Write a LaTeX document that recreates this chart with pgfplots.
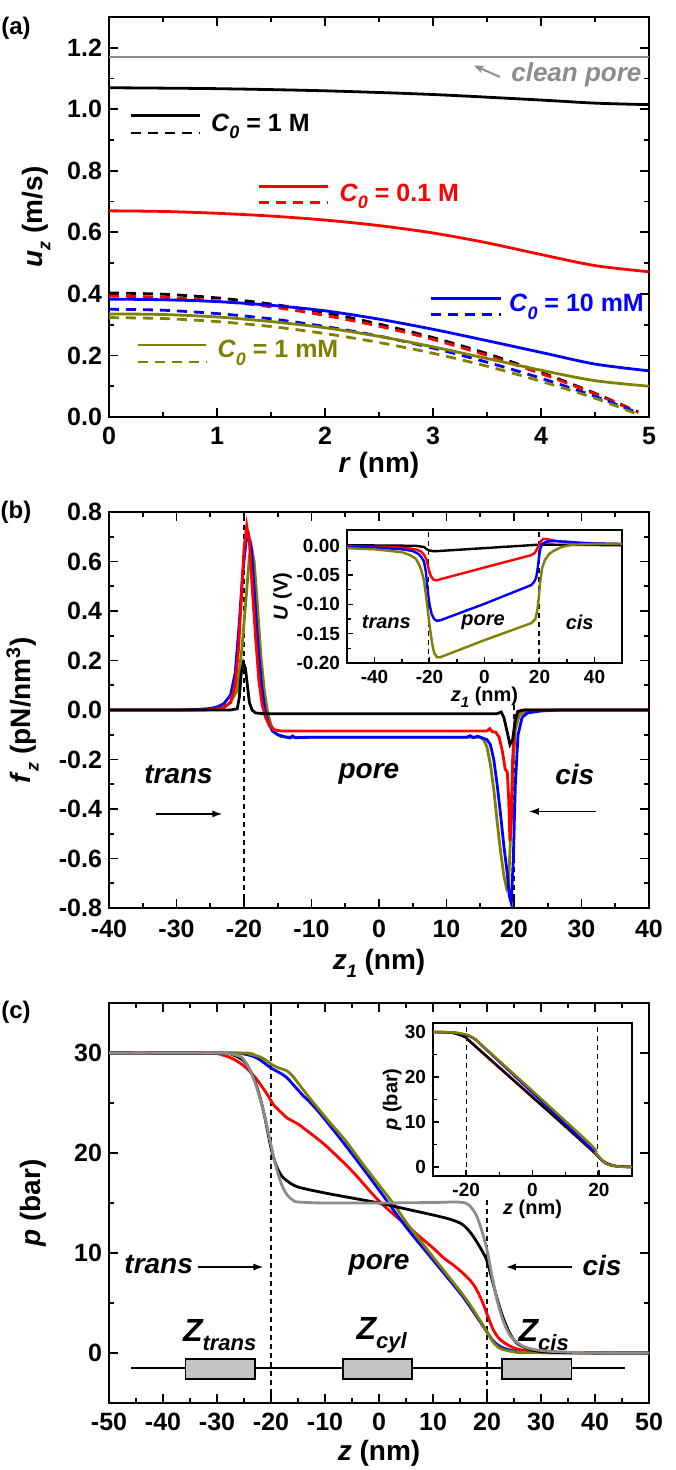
\documentclass[border=0pt]{standalone}
\usepackage{fontspec}
\setmainfont{Liberation Sans}
\usepackage{pgfplots}
\pgfplotsset{compat=1.18}
\usetikzlibrary{arrows.meta}
\definecolor{olv}{RGB}{128,128,0}
\definecolor{cgray}{RGB}{140,140,140}
\definecolor{boxgray}{RGB}{195,195,195}
\newcommand{\sub}[1]{\raisebox{-0.55ex}{\fontsize{9}{10}\selectfont #1}}
\newcommand{\isub}[1]{\raisebox{-0.55ex}{\fontsize{7.5}{8}\selectfont #1}}

\tikzset{
  dsh/.style={dash pattern=on 5pt off 3.5pt},
  vline/.style={black, line width=0.6pt, dash pattern=on 2.5pt off 2pt},
}
\pgfplotsset{
  mainax/.style={
    scale only axis, width=270pt, anchor=south west,
    tick align=inside,
    axis line style={line width=1.1pt},
    every tick/.style={black,line width=0.9pt},
    major tick length=4.5pt, minor tick length=2.5pt,
    /pgf/number format/assume math mode=true,
    tick label style={font=\fontsize{12.5}{14}\selectfont\bfseries},
    xticklabel style={yshift=-1.5pt},
    label style={font=\fontsize{14}{16}\selectfont\bfseries},
    every axis plot/.append style={line width=1.4pt},
  },
  inax/.style={
    scale only axis, anchor=south west,
    axis background/.style={fill=white},
    tick align=inside, xtick pos=bottom, ytick pos=left,
    axis line style={line width=0.9pt},
    every tick/.style={black,line width=0.7pt},
    major tick length=3pt, minor tick length=1.8pt,
    /pgf/number format/assume math mode=true,
    tick label style={font=\fontsize{9.5}{10}\selectfont\bfseries},
    label style={font=\fontsize{10}{11}\selectfont\bfseries},
    every axis plot/.append style={line width=1.2pt},
  },
}

\begin{document}
\begin{tikzpicture}
\path[use as bounding box] (0,0) rectangle (337.5pt,735pt);

% ---------------- (a)
\node[font=\fontsize{12}{13}\selectfont\bfseries] at (8pt,721pt) {(a)};
\begin{axis}[mainax, at={(54.5pt,526.5pt)}, height=200pt,
  xmin=0, xmax=5, ymin=0, ymax=1.3,
  xtick={0,1,2,3,4,5}, ytick={0,0.2,0.4,0.6,0.8,1.0,1.2},
  minor x tick num=1, minor y tick num=1,
  yticklabel style={/pgf/number format/fixed,/pgf/number format/precision=1,/pgf/number format/fixed zerofill},
  xlabel={\textit{r} (nm)}, ylabel={\textit{u}\sub{\textit{z}} (m/s)},
  xlabel style={at={(axis description cs:0.5,0)}, anchor=center, yshift=-24pt},
  ylabel style={at={(axis description cs:-0.135,0.5)}, anchor=center},
]
\addplot[cgray, no marks] coordinates {(0,1.17)(5,1.17)};
% dashed
\addplot[black, dsh, no marks, smooth] coordinates {(0,0.403)(0.5,0.399)(1,0.387)(1.5,0.367)(2,0.339)(2.5,0.302)(3,0.258)(3.5,0.206)(4,0.145)(4.5,0.077)(4.9,0.016)};
\addplot[red, dsh, no marks, smooth] coordinates {(0,0.393)(0.5,0.389)(1,0.377)(1.5,0.358)(2,0.330)(2.5,0.295)(3,0.252)(3.5,0.200)(4,0.141)(4.5,0.075)(4.9,0.015)};
\addplot[blue, dsh, no marks, smooth] coordinates {(0,0.350)(0.5,0.347)(1,0.336)(1.5,0.319)(2,0.294)(2.5,0.263)(3,0.224)(3.5,0.178)(4,0.126)(4.5,0.067)(4.9,0.013)};
\addplot[olv, dsh, no marks, smooth] coordinates {(0,0.323)(0.5,0.320)(1,0.310)(1.5,0.294)(2,0.271)(2.5,0.242)(3,0.207)(3.5,0.165)(4,0.116)(4.5,0.061)(4.9,0.008)};
% solid
\addplot[black, no marks, smooth] coordinates {(0,1.070)(1,1.067)(2,1.060)(3,1.048)(4,1.030)(4.5,1.020)(5,1.015)};
\addplot[red, no marks, smooth] coordinates {(0,0.670)(0.5,0.668)(1,0.662)(1.5,0.653)(2,0.640)(2.5,0.622)(3,0.598)(3.5,0.566)(4,0.528)(4.5,0.492)(5,0.472)};
\addplot[blue, no marks, smooth] coordinates {(0,0.383)(0.5,0.381)(1,0.375)(1.5,0.363)(2,0.345)(2.5,0.318)(3,0.285)(3.5,0.248)(4,0.210)(4.5,0.172)(5,0.150)};
\addplot[olv, no marks, smooth] coordinates {(0,0.335)(0.5,0.333)(1,0.325)(1.5,0.310)(2,0.290)(2.5,0.262)(3,0.228)(3.5,0.190)(4,0.152)(4.5,0.118)(5,0.100)};
% legend keys
\draw[black, line width=1.4pt] (axis cs:0.2,0.979) -- (axis cs:0.84,0.979);
\draw[black, line width=1.4pt, dsh] (axis cs:0.2,0.923) -- (axis cs:0.84,0.923);
\node[anchor=west, black, font=\fontsize{12.5}{14}\selectfont\bfseries] at (axis cs:0.88,0.945) {\textit{C}\sub{\textit{0}} = 1 M};
\draw[red, line width=1.4pt] (axis cs:1.39,0.748) -- (axis cs:2.03,0.748);
\draw[red, line width=1.4pt, dsh] (axis cs:1.39,0.696) -- (axis cs:2.03,0.696);
\node[anchor=west, red, font=\fontsize{12.5}{14}\selectfont\bfseries] at (axis cs:2.07,0.716) {\textit{C}\sub{\textit{0}} = 0.1 M};
\draw[blue, line width=1.4pt] (axis cs:2.98,0.384) -- (axis cs:3.63,0.384);
\draw[blue, line width=1.4pt, dsh] (axis cs:2.98,0.332) -- (axis cs:3.63,0.332);
\node[anchor=west, blue, font=\fontsize{12.5}{14}\selectfont\bfseries] at (axis cs:3.64,0.358) {\textit{C}\sub{\textit{0}} = 10 mM};
\draw[olv, line width=1.4pt] (axis cs:0.27,0.234) -- (axis cs:0.9,0.234);
\draw[olv, line width=1.4pt, dsh] (axis cs:0.27,0.179) -- (axis cs:0.9,0.179);
\node[anchor=west, olv, font=\fontsize{12.5}{14}\selectfont\bfseries] at (axis cs:0.94,0.208) {\textit{C}\sub{\textit{0}} = 1 mM};
\draw[cgray, line width=1pt, -{Stealth[length=5pt,width=4pt]}] (axis cs:3.62,1.105) -- (axis cs:3.38,1.142);
\node[anchor=west, cgray, font=\fontsize{13}{14}\selectfont\bfseries\itshape] at (axis cs:3.66,1.112) {clean pore};
\end{axis}

% ---------------- (b)
\node[font=\fontsize{12}{13}\selectfont\bfseries] at (8pt,479pt) {(b)};
\begin{axis}[mainax, at={(54.5pt,281pt)}, height=198pt,
  xmin=-40, xmax=40, ymin=-0.8, ymax=0.8,
  xtick={-40,-30,...,40}, ytick={-0.8,-0.6,-0.4,-0.2,0,0.2,0.4,0.6,0.8},
  minor x tick num=1, minor y tick num=1,
  yticklabel style={/pgf/number format/fixed,/pgf/number format/precision=1,/pgf/number format/fixed zerofill},
  xticklabel style={yshift=-1pt},
  xlabel={\textit{z}\sub{\textit{1}} (nm)}, ylabel={\textit{f}\sub{\textit{z}} (pN/nm\textsuperscript{3})},
  xlabel style={at={(axis description cs:0.5,0)}, anchor=center, yshift=-27.5pt},
  ylabel style={at={(axis description cs:-0.16,0.5)}, anchor=center},
]
\draw[vline] (axis cs:-20,-0.8) -- (axis cs:-20,0.8);
\draw[vline] (axis cs:20,-0.8) -- (axis cs:20,0.03);
\addplot[olv, no marks] coordinates {(-40,0)(-28,0)(-25,0.002)(-23,0.01)(-22,0.03)(-21,0.08)(-20.3,0.25)(-19.7,0.45)(-19.2,0.62)(-18.9,0.66)(-18.5,0.6)(-18,0.42)(-17.5,0.22)(-17,0.08)(-16.5,-0.01)(-16,-0.06)(-15.3,-0.095)(-14.5,-0.108)(-13,-0.11)(0,-0.11)(15,-0.11)(15.5,-0.12)(16,-0.15)(16.5,-0.22)(17,-0.32)(17.5,-0.45)(18,-0.57)(18.5,-0.67)(18.9,-0.72)(19.2,-0.7)(19.5,-0.5)(19.8,-0.25)(20.2,-0.08)(20.8,-0.02)(22,-0.005)(25,0)(40,0)};
\addplot[blue, no marks] coordinates {(-40,0)(-30,0)(-27,0.002)(-25,0.006)(-24,0.012)(-23,0.025)(-22,0.06)(-21.3,0.15)(-20.7,0.35)(-20.2,0.55)(-19.7,0.68)(-19.3,0.705)(-18.9,0.65)(-18.4,0.45)(-17.9,0.25)(-17.4,0.1)(-16.9,0.0)(-16.4,-0.05)(-15.8,-0.085)(-15,-0.1)(-14,-0.108)(-13.2,-0.113)(-12.8,-0.105)(-12.4,-0.112)(-10,-0.11)(0,-0.11)(10,-0.11)(13,-0.11)(13.5,-0.104)(14,-0.112)(14.6,-0.106)(15,-0.11)(15.5,-0.115)(16,-0.12)(16.5,-0.14)(17,-0.2)(17.5,-0.3)(18,-0.42)(18.5,-0.55)(19,-0.66)(19.3,-0.75)(19.6,-0.78)(19.9,-0.6)(20.2,-0.3)(20.6,-0.1)(21.2,-0.03)(22,-0.012)(24,-0.004)(27,0)(40,0)};
\addplot[red, no marks] coordinates {(-40,0)(-26,0)(-24,0.003)(-23,0.01)(-22,0.03)(-21.3,0.1)(-20.8,0.25)(-20.4,0.45)(-20.0,0.65)(-19.6,0.745)(-19.2,0.68)(-18.8,0.5)(-18.3,0.3)(-17.8,0.12)(-17.3,0.02)(-16.8,-0.03)(-16.2,-0.065)(-15.5,-0.08)(-14.5,-0.085)(0,-0.085)(16,-0.085)(16.4,-0.075)(16.8,-0.088)(17.3,-0.09)(17.8,-0.11)(18.3,-0.17)(18.7,-0.24)(19.0,-0.25)(19.2,-0.35)(19.4,-0.53)(19.6,-0.45)(19.8,-0.2)(20.1,-0.05)(20.5,-0.01)(21.5,0)(40,0)};
\addplot[black, no marks] coordinates {(-40,0)(-22,0)(-21,0.005)(-20.7,0.05)(-20.4,0.15)(-20.1,0.19)(-19.8,0.17)(-19.5,0.1)(-19.2,0.03)(-18.8,0.0)(-18.3,-0.012)(-17,-0.015)(0,-0.015)(17.5,-0.015)(18.1,-0.008)(18.5,-0.03)(19.0,-0.09)(19.4,-0.14)(19.8,-0.12)(20.2,-0.04)(20.6,-0.005)(21.5,0)(40,0)};
\node[font=\fontsize{14}{15}\selectfont\bfseries\itshape] at (axis cs:-29.7,-0.26) {trans};
\node[font=\fontsize{14}{15}\selectfont\bfseries\itshape] at (axis cs:-1.5,-0.26) {pore};
\node[font=\fontsize{14}{15}\selectfont\bfseries\itshape] at (axis cs:29,-0.26) {cis};
\draw[line width=0.7pt, -{Latex[length=5pt,width=3.5pt]}] (axis cs:-33,-0.42) -- (axis cs:-23.2,-0.42);
\draw[line width=0.7pt, -{Latex[length=5pt,width=3.5pt]}] (axis cs:32.2,-0.41) -- (axis cs:22.2,-0.41);
\end{axis}

% inset (b)
\begin{axis}[inax, at={(173.5pt,403.5pt)}, width=137.5pt, height=66.5pt,
  xmin=-50, xmax=50, ymin=-0.2, ymax=0.027,
  xtick={-40,-20,0,20,40}, ytick={-0.2,-0.15,-0.1,-0.05,0},
  minor x tick num=1, minor y tick num=1,
  yticklabel style={/pgf/number format/fixed,/pgf/number format/precision=2,/pgf/number format/fixed zerofill},
  xlabel={\textit{z}\isub{\textit{1}} (nm)}, ylabel={\textit{U} (V)},
  xlabel style={at={(axis description cs:0.5,0)}, anchor=center, yshift=-17pt},
  ylabel style={at={(axis description cs:-0.235,0.5)}, anchor=center},
]
\draw[vline] (axis cs:-20.5,-0.2) -- (axis cs:-20.5,0.027);
\draw[vline] (axis cs:19.8,-0.2) -- (axis cs:19.8,0.027);
\addplot[black, no marks] coordinates {(-50,0.001)(-25,0.0)(-22,-0.002)(-21,-0.006)(-20,-0.008)(-19,-0.009)(-17,-0.009)(20,0.002)(22,0.002)(50,0.001)};
\addplot[red, no marks] coordinates {(-50,-0.001)(-35,-0.002)(-28,-0.004)(-25,-0.006)(-23,-0.01)(-22,-0.015)(-21,-0.025)(-20.3,-0.04)(-19.5,-0.052)(-18.5,-0.058)(-17.5,-0.059)(-16,-0.057)(0,-0.037)(17,-0.016)(18.3,-0.012)(19,-0.006)(19.8,0.0)(20.5,0.008)(21.5,0.012)(23,0.011)(25,0.009)(30,0.006)(35,0.005)(40,0.004)(50,0.003)};
\addplot[blue, no marks] coordinates {(-50,-0.002)(-40,-0.003)(-30,-0.006)(-26,-0.009)(-24,-0.014)(-23,-0.019)(-22,-0.027)(-21.3,-0.045)(-20.7,-0.075)(-20,-0.1)(-19.2,-0.117)(-18.3,-0.125)(-17.3,-0.128)(-16,-0.127)(0,-0.099)(17,-0.067)(18,-0.062)(18.8,-0.054)(19.3,-0.04)(19.8,-0.02)(20.3,-0.005)(21,0.003)(22.5,0.007)(25,0.008)(30,0.007)(35,0.005)(40,0.004)(50,0.003)};
\addplot[olv, no marks] coordinates {(-50,-0.004)(-40,-0.006)(-30,-0.011)(-27,-0.016)(-25,-0.022)(-24,-0.03)(-23,-0.041)(-22,-0.06)(-21,-0.095)(-20,-0.135)(-19,-0.168)(-18.3,-0.183)(-17.3,-0.19)(-16,-0.19)(0,-0.161)(17,-0.132)(18.5,-0.125)(19.2,-0.11)(19.7,-0.09)(20.2,-0.063)(21,-0.037)(22,-0.024)(23.5,-0.014)(25,-0.009)(28,-0.002)(32,0.002)(40,0.003)(50,0.003)};
\node[font=\fontsize{10}{11}\selectfont\bfseries\itshape] at (axis cs:-35.7,-0.13) {trans};
\node[font=\fontsize{10}{11}\selectfont\bfseries\itshape] at (axis cs:-0.5,-0.13) {pore};
\node[font=\fontsize{10}{11}\selectfont\bfseries\itshape] at (axis cs:34.6,-0.13) {cis};
\end{axis}

% ---------------- (c)
\node[font=\fontsize{12}{13}\selectfont\bfseries] at (8pt,229pt) {(c)};
\begin{axis}[mainax, at={(54.5pt,33.5pt)}, height=200pt,
  xmin=-50, xmax=50, ymin=-5, ymax=35,
  xtick={-50,-40,...,50}, ytick={0,10,20,30},
  minor x tick num=1, minor y tick num=1,
  xlabel={\textit{z} (nm)}, ylabel={\textit{p} (bar)},
  xlabel style={at={(axis description cs:0.5,0)}, anchor=center, yshift=-25pt},
  ylabel style={at={(axis description cs:-0.14,0.5)}, anchor=center},
]
\draw[vline] (axis cs:-20,-5) -- (axis cs:-20,35);
\draw[vline] (axis cs:20,-5) -- (axis cs:20,15.5);
\draw[line width=0.7pt] (axis cs:-46,-1.5) -- (axis cs:45.5,-1.5);
\draw[line width=0.7pt, fill=boxgray] (axis cs:-35.8,-0.6) rectangle (axis cs:-23,-2.6);
\draw[line width=0.7pt, fill=boxgray] (axis cs:-6.7,-0.6) rectangle (axis cs:6.1,-2.6);
\draw[line width=0.7pt, fill=boxgray] (axis cs:22.8,-0.6) rectangle (axis cs:35.6,-2.6);
\node[font=\fontsize{16}{17}\selectfont\bfseries\itshape] at (axis cs:-29.5,1.8) {Z\sub{\fontsize{11}{12}\selectfont trans}};
\node[font=\fontsize{16}{17}\selectfont\bfseries\itshape] at (axis cs:0.5,1.8) {Z\sub{\fontsize{11}{12}\selectfont cyl}};
\node[font=\fontsize{16}{17}\selectfont\bfseries\itshape] at (axis cs:30.5,1.8) {Z\sub{\fontsize{11}{12}\selectfont cis}};
\addplot[red, no marks, smooth] coordinates {(-50,30)(-32,30)(-29,29.8)(-27,29.4)(-25,28.7)(-23,27.6)(-21.5,26.5)(-20.5,25.7)(-19.5,24.8)(-18,24.0)(-17,23.5)(-15,22.9)(-14,22.5)(-10,20.8)(-5,18.2)(0,15.2)(5,12.8)(10,10.5)(12,9.5)(14,8.7)(15.5,8.0)(17,7.2)(18,6.4)(19,5.3)(20,3.9)(21,2.5)(22,1.6)(23,1.1)(25,0.5)(28,0.15)(32,0.03)(50,0)};
\addplot[blue, no marks, smooth] coordinates {(-50,30)(-28,30)(-25,29.9)(-23,29.6)(-22,29.3)(-21,28.9)(-20,28.5)(-19,28.2)(-18,27.9)(-17,27.5)(-16,26.9)(-15,26.3)(-14,25.7)(-13,25.2)(-11,24)(-8,22)(-4,19.2)(0,16.3)(5,12.6)(10,9.3)(15,6.0)(17,4.5)(19,2.9)(20,2.1)(21,1.3)(22,0.8)(23,0.5)(25,0.2)(28,0.05)(50,0)};
\addplot[olv, no marks, smooth] coordinates {(-50,30)(-26,30)(-24,29.9)(-22,29.6)(-21,29.3)(-20,28.9)(-19,28.6)(-18,28.4)(-17,28.2)(-16,27.7)(-15,27.0)(-14,26.3)(-12.7,25.4)(-9.5,23.3)(-6.3,21.3)(-3,18.9)(0,16.8)(3,14.7)(5,13.1)(10,9.6)(15,6.2)(17,4.7)(19,3.0)(20,2.1)(21,1.2)(22,0.6)(23,0.35)(25,0.12)(28,0.03)(50,0)};
\addplot[black, no marks, smooth] coordinates {(-50,30)(-30,30)(-27,29.8)(-25,29.2)(-24,28.4)(-23,27.2)(-22,25.5)(-21,23.2)(-20,20.5)(-19,18.7)(-18,17.7)(-17,17.2)(-15,16.6)(-10,16.0)(-5,15.5)(0,15.0)(5,14.4)(10,13.8)(13,13.4)(15,13.0)(16,12.6)(17,12.0)(18,11.2)(19,10.3)(20,9.2)(21,7.2)(22,5.2)(23,3.5)(24,2.2)(25,1.3)(26,0.8)(28,0.35)(30,0.15)(35,0.03)(50,0)};
\addplot[cgray, no marks, smooth] coordinates {(-50,30)(-30,30)(-26,29.7)(-25,29.3)(-24,28.4)(-23,27.1)(-22,25.4)(-21,23.3)(-20,20.8)(-19,18.5)(-18,16.8)(-17,15.8)(-16,15.3)(-15,15.1)(-10,15.0)(0,15.0)(10,15.05)(14,15.1)(16,15.0)(17,14.6)(18,13.8)(19,12.3)(20,10.3)(21,7.5)(22,5)(23,3.2)(24,2)(25,1.3)(27,0.6)(30,0.25)(35,0.08)(40,0.02)(50,0)};
\node[font=\fontsize{14}{15}\selectfont\bfseries\itshape] at (axis cs:-40.8,8.8) {trans};
\node[font=\fontsize{14}{15}\selectfont\bfseries\itshape] at (axis cs:0,8.8) {pore};
\node[font=\fontsize{14}{15}\selectfont\bfseries\itshape] at (axis cs:41.3,8.8) {cis};
\draw[line width=0.7pt, -{Latex[length=5pt,width=3.5pt]}] (axis cs:-33.5,8.6) -- (axis cs:-21.4,8.6);
\draw[line width=0.7pt, -{Latex[length=5pt,width=3.5pt]}] (axis cs:35.8,8.6) -- (axis cs:23.5,8.6);
\end{axis}

% inset (c)
\begin{axis}[inax, at={(216.5pt,147pt)}, width=99.5pt, height=76.5pt,
  xmin=-30, xmax=30, ymin=-2, ymax=32,
  xtick={-20,0,20}, ytick={0,10,20,30},
  minor x tick num=1, minor y tick num=1,
  xlabel={\textit{z} (nm)}, ylabel={\textit{p} (bar)},
  xlabel style={at={(axis description cs:0.5,0)}, anchor=center, yshift=-16.5pt},
  ylabel style={at={(axis description cs:-0.205,0.5)}, anchor=center},
]
\draw[vline] (axis cs:-20,-2) -- (axis cs:-20,32);
\draw[vline] (axis cs:19.5,-2) -- (axis cs:19.5,32);
\addplot[red, no marks, smooth] coordinates {(-30,30)(-24,29.8)(-21,29.2)(-20,28.8)(-18,27.4)(0,15.6)(19,2.9)(20,2.2)(22,0.9)(25,0.2)(30,0)};
\addplot[black, no marks, smooth] coordinates {(-30,30)(-25,29.9)(-23,29.6)(-21,29.1)(-20,28.7)(-18,27.3)(0,15.5)(13.5,6.7)(19,3.0)(20,2.2)(21,1.5)(22,1.0)(24,0.4)(26,0.15)(28,0.05)(30,0)};
\addplot[blue, no marks, smooth] coordinates {(-30,30)(-24,29.9)(-21,29.5)(-19,29.1)(-17,28.2)(-16,27.5)(0,16.5)(17,4.6)(19,3.0)(20,2.2)(21,1.4)(22,0.8)(24,0.3)(27,0.05)(30,0)};
\addplot[olv, no marks, smooth] coordinates {(-30,30)(-24,29.9)(-21,29.6)(-19,29.2)(-17,28.3)(-16,27.6)(0,16.9)(17.7,4.9)(19,3.2)(20,2.3)(21,1.5)(22,0.9)(23,0.55)(25,0.2)(27,0.05)(30,0)};
\end{axis}
\end{tikzpicture}
\end{document}
